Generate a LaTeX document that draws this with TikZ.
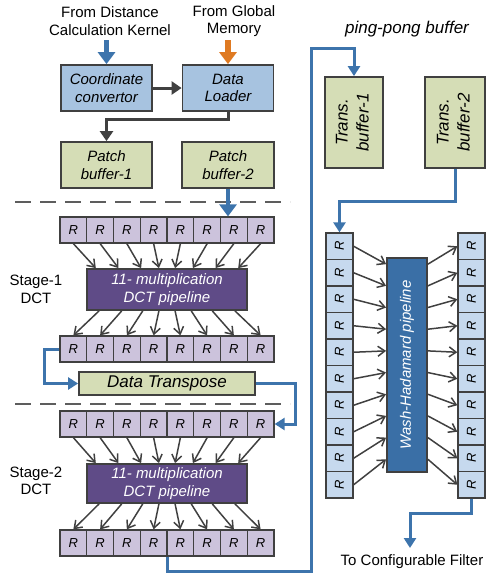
\documentclass[tikz,border=0pt]{standalone}
\usepackage{fontspec}
\setmainfont{Liberation Sans}
\usepackage{graphicx}
\usetikzlibrary{arrows.meta,calc}

\definecolor{edge}{HTML}{404040}
\definecolor{lblue}{HTML}{A7C3E0}
\definecolor{bufgreen}{HTML}{D5DDB6}
\definecolor{lav}{HTML}{CCC3DC}
\definecolor{dctpurple}{HTML}{5F4B87}
\definecolor{whblue}{HTML}{3A6FA6}
\definecolor{rblue}{HTML}{C6D9EE}
\definecolor{bline}{HTML}{3D74AC}
\definecolor{orangeflow}{HTML}{DF7A22}

\begin{document}
\begin{tikzpicture}[x=1pt,y=-1pt,
  font=\fontsize{15}{17.5}\selectfont,
  box/.style={draw=edge, line width=1.8pt, inner sep=0pt, align=center,
              font=\fontsize{15}{17.5}\selectfont\itshape},
  loadbox/.style={box, fill=lblue, minimum width=91, minimum height=46},
  bufbox/.style={box, fill=bufgreen},
  pipebox/.style={box, text=white},
  rcell/.style={draw=edge, line width=1.3pt, fill=lav, minimum width=26.75,
                minimum height=26, inner sep=0pt,
                font=\fontsize{13}{14}\selectfont\itshape},
  vcell/.style={rcell, fill=rblue, minimum width=27, minimum height=26.5},
  fan/.style={draw=edge, line width=1.5pt, -{Straight Barb[length=7pt,width=10pt]}},
  darkflow/.style={draw=edge, line width=3pt, -{Triangle[length=10pt,width=13pt]}},
  blueflow/.style={draw=bline, line width=3pt, -{Triangle[length=10pt,width=12pt]}},
  feed/.style={line width=5.5pt, -{Triangle[length=12pt,width=17pt]}},
  stagesep/.style={draw=edge!85, line width=1.8pt, dash pattern=on 16pt off 9pt},
  lbl/.style={align=center, inner sep=0pt},
  transbox/.style={bufbox, minimum height=91, font=\fontsize{17}{21}\selectfont\itshape},
]
\useasboundingbox (0,0) rectangle (486,574);

% ---------- inputs and loader ----------
\node[lbl] (srcA) at (110,21) {From Distance\\Calculation Kernel};
\node[lbl] (srcB) at (234,21) {From Global\\Memory};
\coordinate (inA) at (106.5,40);
\coordinate (inB) at (228,40);

\node[loadbox] (cc) at (106.5,88) {Coordinate\\convertor};
\node[loadbox] (dl) at (228,88) {Data\\Loader};
\node[bufbox, minimum width=91, minimum height=46] (pb1) at (106.5,165) {Patch\\buffer-1};
\node[bufbox, minimum width=92, minimum height=46] (pb2) at (228,165) {Patch\\buffer-2};

\draw[feed, draw=bline] (inA) -- (cc.north);
\draw[feed, draw=orangeflow] (inB) -- (dl.north);
\draw[darkflow] (cc.east) -- (dl.west);
\draw[darkflow] (dl.south) -- ++(0,8) -| (pb1.north);

% ---------- stage separators ----------
\draw[stagesep] (15,202) -- (290,202);
\draw[stagesep] (15,404) -- (290,404);

% ---------- register rows ----------
\foreach \i in {1,...,8} {
  \node[rcell] (a\i) at ({60+26.75*(\i-0.5)},230) {R};
  \node[rcell] (b\i) at ({60+26.75*(\i-0.5)},349) {R};
  \node[rcell] (c\i) at ({60+26.75*(\i-0.5)},424) {R};
  \node[rcell] (d\i) at ({60+26.75*(\i-0.5)},543) {R};
}

\draw[feed, draw=bline, line width=4.5pt] (pb2.south) -- (pb2.south |- a7.north);

% ---------- DCT pipelines ----------
\node[pipebox, fill=dctpurple, minimum width=160, minimum height=41] (dct1) at (167,289.5)
  {11- multiplication\\DCT pipeline};
\node[pipebox, fill=dctpurple, minimum width=160, minimum height=39] (dct2) at (167,483.5)
  {11- multiplication\\DCT pipeline};
\node[lbl] (st1) at (36,289.5) {Stage-1\\DCT};
\node[lbl] (st2) at (36,481) {Stage-2\\DCT};

\foreach \i/\f in {1/0.06,2/0.2,3/0.34,4/0.45,5/0.55,6/0.66,7/0.8,8/0.94} {
  \draw[fan] (a\i.south) -- ($(dct1.north west)!\f!(dct1.north east)$);
  \draw[fan] (c\i.south) -- ($(dct2.north west)!\f!(dct2.north east)$);
}
\foreach \i/\f in {1/0.08,2/0.22,3/0.35,4/0.45,5/0.55,6/0.65,7/0.78,8/0.92} {
  \draw[fan] ($(dct1.south west)!\f!(dct1.south east)$) -- (b\i.north);
  \draw[fan] ($(dct2.south west)!\f!(dct2.south east)$) -- (d\i.north);
}

% ---------- transpose ----------
\node[bufbox, minimum width=176, minimum height=23,
      font=\fontsize{17}{19}\selectfont\itshape] (dt) at (167,383.5) {Data Transpose};
\draw[blueflow] (b1.west) -- ++(-15,0) |- (dt.west);
\draw[blueflow] (dt.east) -- ++(40,0) |- (c8.east);

% ---------- ping-pong buffer ----------
\node[lbl, font=\fontsize{17}{19}\selectfont\itshape] (pp) at (407,29) {ping-pong buffer};
\node[transbox, minimum width=58] (tb1) at (354,122.5)
  {\rotatebox{90}{\begin{tabular}{@{}c@{}}Trans.\\buffer-1\end{tabular}}};
\node[transbox, minimum width=60] (tb2) at (455,122.5)
  {\rotatebox{90}{\begin{tabular}{@{}c@{}}Trans.\\buffer-2\end{tabular}}};

\coordinate (loopA) at (311,571);
\coordinate (loopB) at (311,48);
\draw[blueflow] (d4.south east) |- (loopA) -- (loopB) -| (tb1.north);

% ---------- Walsh-Hadamard stage ----------
\foreach \i in {1,...,10} {
  \node[vcell] (l\i) at (339.5,{233+26.5*(\i-0.5)}) {\rotatebox{90}{R}};
  \node[vcell] (r\i) at (471.5,{233+26.5*(\i-0.5)}) {\rotatebox{90}{R}};
}
\node[pipebox, fill=whblue, minimum width=40, minimum height=214] (wh) at (407,365)
  {\rotatebox{90}{Wash-Hadamard pipeline}};

\foreach \i [evaluate=\i as \f using (7+21.5*(\i-1))/214] in {1,...,10} {
  \draw[fan] (l\i.east) -- ($(wh.north west)!\f!(wh.south west)$);
  \draw[fan] ($(wh.north east)!\f!(wh.south east)$) -- (r\i.west);
}

\draw[blueflow] (tb2.south) -- ++(0,33) -| (l1.north);

\coordinate (outend) at (410,548);
\draw[blueflow] (r10.south) -- ++(0,15) -| (outend);
\node[lbl] (dest) at (412,562) {To Configurable Filter};
\end{tikzpicture}
\end{document}
